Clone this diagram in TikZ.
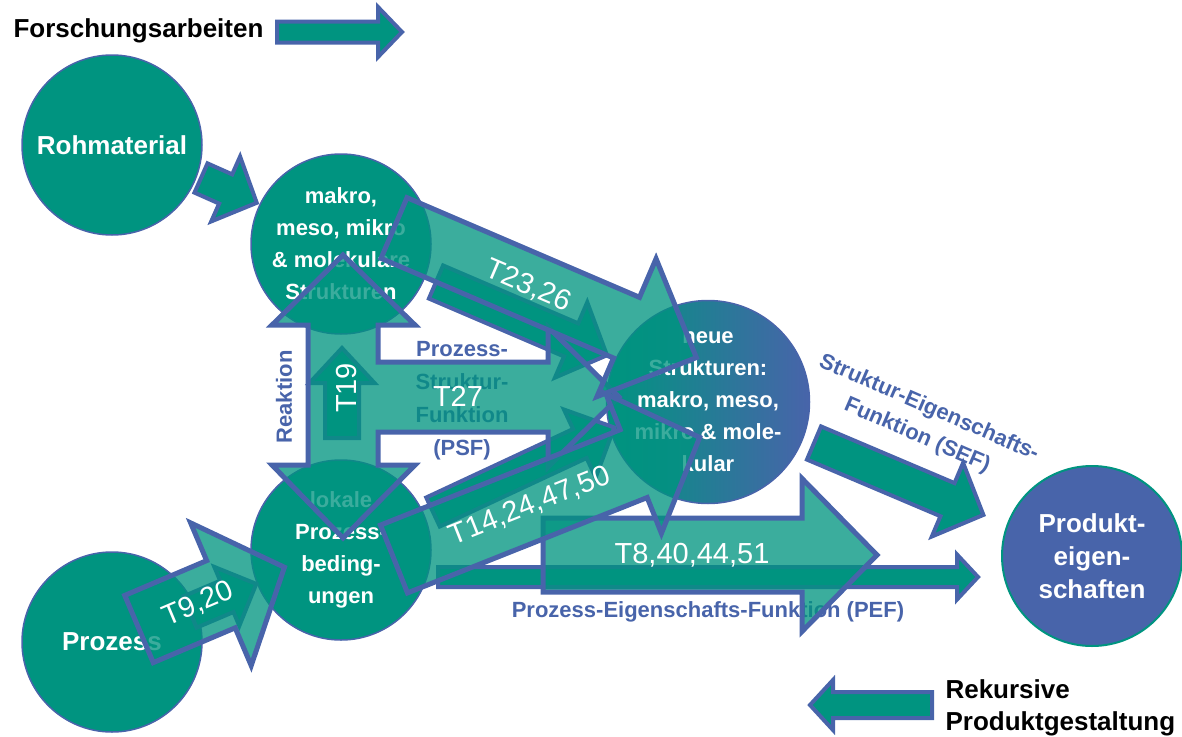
\documentclass[tikz,border=0pt]{standalone}
\usepackage{fontspec}
\setmainfont{Liberation Sans}
\definecolor{tuerkis}{RGB}{0,148,128}
\definecolor{blau}{RGB}{72,100,170}
\newcommand{\blockpfeil}[7]{%
  \draw[#1,shift={(#2)},rotate=#3]
    (0,{#5/2}) -- ({#4-#7},{#5/2}) -- ({#4-#7},{#6/2}) -- (#4,0)
    -- ({#4-#7},{-#6/2}) -- ({#4-#7},{-#5/2}) -- (0,{-#5/2}) -- cycle;
}
\begin{document}
\begin{tikzpicture}[x=1pt,y=-1pt,
    kreis/.style={circle,minimum size=180pt,inner sep=0pt,fill=tuerkis,draw=blau,line width=1.5pt,
      text=white,align=center,font=\bfseries\fontsize{22}{32}\selectfont},
    grosskreis/.style={kreis,font=\bfseries\fontsize{26}{33}\selectfont},
    pfeil/.style={fill=tuerkis,draw=blau,line width=4pt},
    breit/.style={fill=tuerkis,fill opacity=0.77,draw=blau,line width=5pt},
    blautext/.style={text=blau,align=center,font=\bfseries\fontsize{22}{33}\selectfont},
    schwarztext/.style={text=black,align=left,font=\bfseries\fontsize{26}{32}\selectfont},
    tnr/.style={text=white,font=\fontsize{29}{29}\selectfont}]
  \useasboundingbox (0,0) rectangle (1182,736);
  \node[grosskreis] (roh) at (112,145) {Rohmaterial};
  \node[grosskreis] (prozess) at (112,642) {Prozess};
  \node[kreis] (struktur) at (341,244) {makro,\\meso, mikro\\\& molekulare\\Strukturen};
  \node[kreis] (lokal) at (341,550) {lokale\\Prozess-\\beding-\\ungen};
  \node[kreis,left color=tuerkis,right color=blau] (neu) at (708,402)
    {neue\\Strukturen:\\makro, meso,\\mikro \& mole-\\kular};
  \node[grosskreis,fill=blau,draw=tuerkis,line width=2pt] (produkt) at (1092,556)
    {Produkt-\\eigen-\\schaften};
  \node[schwarztext,anchor=base west] (forsch) at (10,37) {Forschungsarbeiten};
  \node[schwarztext,anchor=base west] (rekursiv) at (942,730) {Rekursive\\Produktgestaltung};
  \node[blautext] (psf) at (462,401) {Prozess-\\Struktur-\\Funktion\\(PSF)};
  \node[blautext,rotate=90] (reaktion) at (284,397) {Reaktion};
  \node[blautext,anchor=base] (pef) at (708,617) {Prozess-Eigenschafts-Funktion (PEF)};
  \node[blautext,rotate=-23.5,font=\bfseries\fontsize{22}{30}\selectfont] (sef) at (923,422)
    {Struktur-Eigenschafts-\\Funktion (SEF)};
  \blockpfeil{pfeil}{277,32}{0}{125}{21}{50}{24}
  \blockpfeil{pfeil}{932,705}{180}{122}{26}{50}{23}
  \blockpfeil{pfeil}{201,178}{-24}{61}{32}{71}{34}
  \blockpfeil{pfeil}{814,443}{-23}{184}{36}{80}{39}
  \blockpfeil{pfeil}{438,577}{0}{540}{20}{45}{21}
  \blockpfeil{pfeil}{342,438}{90}{90}{34}{65}{35}
  \blockpfeil{pfeil}{436,282}{-23.2}{186}{36}{82}{39}
  \blockpfeil{pfeil}{433,512}{25}{200}{32}{75}{38}
  \blockpfeil{pfeil}{190,612}{23}{72}{34}{64}{32}
  \blockpfeil{breit}{139,629}{23}{158}{73}{155}{69}
  \draw[breit] (343,255) -- (415,325) -- (378,325) -- (378,362) -- (548,362) -- (548,327)
    -- (619,397) -- (548,467) -- (548,432) -- (378,432) -- (378,465) -- (415,465)
    -- (343,538) -- (272,465) -- (308,465) -- (308,325) -- (272,325) -- cycle;
  \blockpfeil{breit}{394,228}{-23.2}{329}{66}{150}{76}
  \blockpfeil{breit}{543,555}{0}{334}{74}{153}{75}
  \blockpfeil{breit}{394,559}{21.7}{329}{73}{150}{71}
  \node[tnr,rotate=23] (t920) at (198,604) {T9,20};
  \node[tnr,rotate=90] (t19) at (347,388) {T19};
  \node[tnr] (t27) at (458,396) {T27};
  \node[tnr,rotate=-23.2] (t2326) at (528,286) {T23,26};
  \node[tnr,rotate=21.7] (t14) at (530,506) {T14,24,47,50};
  \node[tnr] (t8) at (692,555) {T8,40,44,51};
\end{tikzpicture}
\end{document}
